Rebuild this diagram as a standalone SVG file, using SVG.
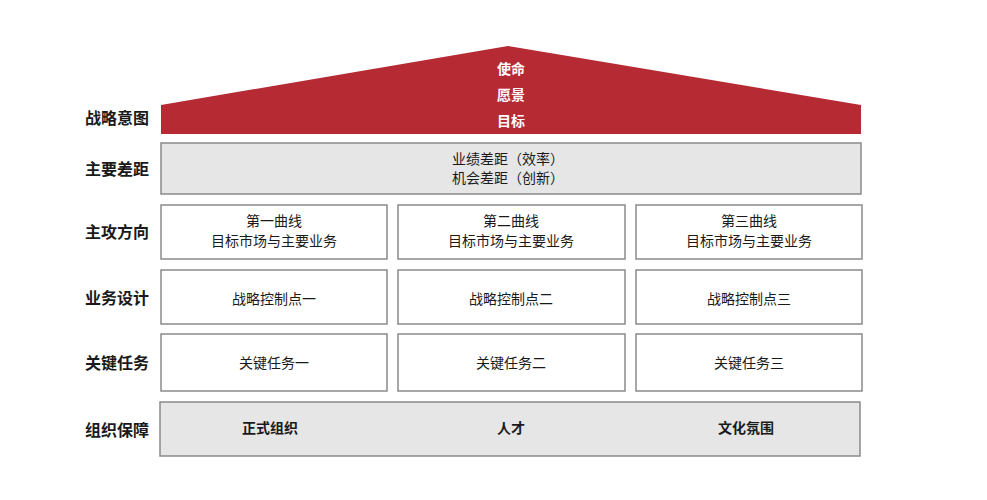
<svg xmlns="http://www.w3.org/2000/svg" width="987" height="500" viewBox="0 0 987 500">
<style>
text{font-family:"Noto Sans CJK SC","Noto Sans",sans-serif;text-anchor:middle;dominant-baseline:central;fill:#1a1a1a}
.lbl{font-size:16px;font-weight:bold}
.t{font-size:14px}
.w{font-size:14px;font-weight:bold;fill:#ffffff}
.b{font-size:14px;font-weight:bold}
.box{fill:#ffffff;stroke:#8a8a8a;stroke-width:1.5}
.gbox{fill:#e6e6e6;stroke:#8a8a8a;stroke-width:1.5}
</style>
<rect width="987" height="500" fill="#ffffff"/>
<g id="labels">
<text class="lbl" x="117" y="117">战略意图</text>
<text class="lbl" x="117" y="168">主要差距</text>
<text class="lbl" x="117" y="231">主攻方向</text>
<text class="lbl" x="117" y="297">业务设计</text>
<text class="lbl" x="117" y="362">关键任务</text>
<text class="lbl" x="117" y="429">组织保障</text>
</g>
<g id="roof">
<polygon points="161,105 508,46 861,105 861,134 161,134" fill="#b52a33"/>
<text class="w" x="511" y="68">使命</text>
<text class="w" x="511" y="94">愿景</text>
<text class="w" x="511" y="120">目标</text>
</g>
<g id="gap">
<rect class="gbox" x="161" y="143" width="700" height="51"/>
<text class="t" x="508" y="158">业绩差距（效率）</text>
<text class="t" x="508" y="177">机会差距（创新）</text>
</g>
<g id="dir1"><rect class="box" x="161" y="205" width="226" height="54"/><text class="t" x="274" y="220">第一曲线</text><text class="t" x="274" y="240">目标市场与主要业务</text></g>
<g id="dir2"><rect class="box" x="398" y="205" width="227" height="54"/><text class="t" x="511" y="220">第二曲线</text><text class="t" x="511" y="240">目标市场与主要业务</text></g>
<g id="dir3"><rect class="box" x="636" y="205" width="226" height="54"/><text class="t" x="749" y="220">第三曲线</text><text class="t" x="749" y="240">目标市场与主要业务</text></g>
<g id="biz1"><rect class="box" x="161" y="270" width="226" height="54"/><text class="t" x="274" y="298">战略控制点一</text></g>
<g id="biz2"><rect class="box" x="398" y="270" width="227" height="54"/><text class="t" x="511" y="298">战略控制点二</text></g>
<g id="biz3"><rect class="box" x="636" y="270" width="226" height="54"/><text class="t" x="749" y="298">战略控制点三</text></g>
<g id="task1"><rect class="box" x="161" y="334" width="226" height="57"/><text class="t" x="274" y="362">关键任务一</text></g>
<g id="task2"><rect class="box" x="398" y="334" width="227" height="57"/><text class="t" x="511" y="362">关键任务二</text></g>
<g id="task3"><rect class="box" x="636" y="334" width="226" height="57"/><text class="t" x="749" y="362">关键任务三</text></g>
<g id="org">
<rect class="gbox" x="160" y="402" width="700" height="54"/>
<text class="b" x="270" y="427">正式组织</text>
<text class="b" x="511" y="427">人才</text>
<text class="b" x="746" y="427">文化氛围</text>
</g>
<g id="connectors"></g>
</svg>
